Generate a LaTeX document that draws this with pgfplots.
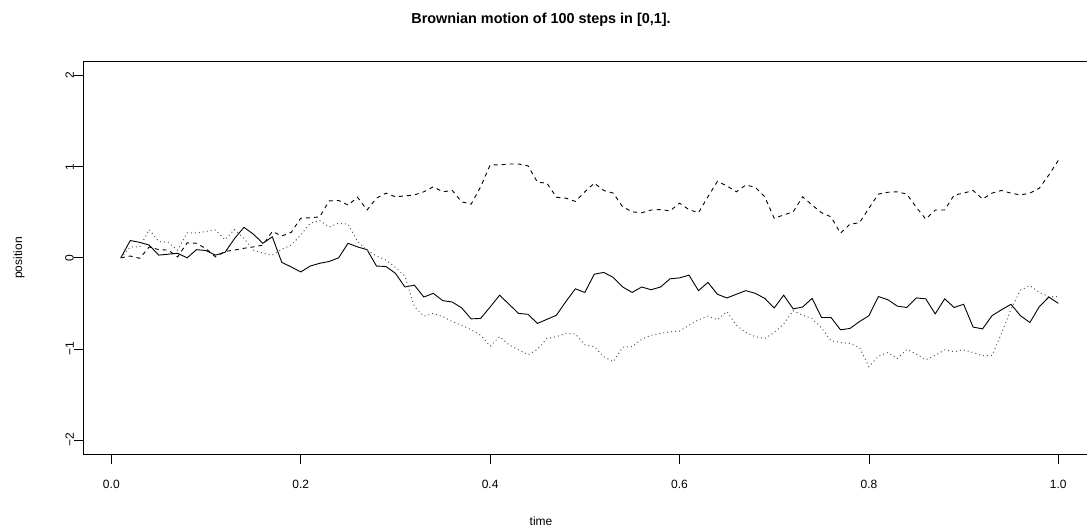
\documentclass[border=0pt]{standalone}
\usepackage{graphicx}
\usepackage{pgfplots}
\pgfplotsset{compat=1.18}
\usepackage{pgfplotstable}
\usepackage{fontspec}
\setmainfont{Liberation Sans}
\newcommand{\yl}[1]{\rotatebox{90}{#1}\hspace{16.7bp}}
\pgfplotstableread{
k s d p
1 0 0 0
2 0.19 0.02 0.12
3 0.17 -0.005 0.12
4 0.14 0.12 0.31
5 0.03 0.09 0.18
6 0.04 0.085 0.17
7 0.05 0.01 0.085
8 0.00 0.165 0.275
9 0.09 0.16 0.275
10 0.08 0.10 0.29
11 0.03 0.01 0.305
12 0.06 0.07 0.20
13 0.21 0.085 0.31
14 0.335 0.105 0.215
15 0.26 0.12 0.085
16 0.16 0.14 0.05
17 0.23 0.29 0.03
18 -0.05 0.24 0.095
19 -0.10 0.28 0.14
20 -0.155 0.435 0.25
21 -0.09 0.44 0.38
22 -0.06 0.45 0.41
23 -0.04 0.625 0.34
24 0.0 0.63 0.38
25 0.16 0.58 0.37
26 0.12 0.665 0.18
27 0.09 0.525 0.085
28 -0.09 0.655 0.02
29 -0.095 0.71 -0.025
30 -0.17 0.67 -0.105
31 -0.32 0.68 -0.20
32 -0.30 0.69 -0.535
33 -0.43 0.725 -0.64
34 -0.39 0.78 -0.61
35 -0.47 0.725 -0.645
36 -0.485 0.74 -0.70
37 -0.55 0.615 -0.74
38 -0.67 0.59 -0.79
39 -0.665 0.78 -0.85
40 -0.54 1.02 -0.97
41 -0.41 1.02 -0.865
42 -0.51 1.03 -0.955
43 -0.61 1.03 -1.01
44 -0.62 1.01 -1.065
45 -0.72 0.83 -1.005
46 -0.675 0.82 -0.885
47 -0.63 0.665 -0.865
48 -0.48 0.655 -0.83
49 -0.34 0.62 -0.835
50 -0.38 0.725 -0.955
51 -0.18 0.82 -0.975
52 -0.16 0.74 -1.085
53 -0.215 0.71 -1.14
54 -0.32 0.56 -0.98
55 -0.38 0.505 -0.975
56 -0.32 0.495 -0.895
57 -0.35 0.525 -0.85
58 -0.32 0.53 -0.83
59 -0.23 0.515 -0.81
60 -0.22 0.60 -0.805
61 -0.19 0.53 -0.74
62 -0.36 0.495 -0.68
63 -0.27 0.67 -0.64
64 -0.40 0.84 -0.68
65 -0.44 0.79 -0.59
66 -0.40 0.725 -0.74
67 -0.36 0.80 -0.82
68 -0.39 0.775 -0.865
69 -0.445 0.67 -0.885
70 -0.55 0.435 -0.82
71 -0.41 0.47 -0.725
72 -0.56 0.505 -0.58
73 -0.54 0.67 -0.63
74 -0.445 0.58 -0.665
75 -0.655 0.495 -0.77
76 -0.655 0.45 -0.91
77 -0.79 0.27 -0.93
78 -0.775 0.37 -0.94
79 -0.70 0.385 -0.985
80 -0.635 0.545 -1.195
81 -0.425 0.70 -1.08
82 -0.46 0.72 -1.04
83 -0.53 0.725 -1.105
84 -0.545 0.70 -1.005
85 -0.44 0.555 -1.055
86 -0.45 0.425 -1.12
87 -0.615 0.525 -1.07
88 -0.45 0.525 -1.01
89 -0.545 0.69 -1.03
90 -0.51 0.71 -1.01
91 -0.76 0.74 -1.04
92 -0.78 0.645 -1.075
93 -0.635 0.71 -1.07
94 -0.57 0.74 -0.83
95 -0.51 0.71 -0.565
96 -0.635 0.69 -0.355
97 -0.71 0.71 -0.305
98 -0.535 0.765 -0.38
99 -0.43 0.91 -0.425
100 -0.50 1.07 -0.425
}\bm
\begin{document}
\begin{tikzpicture}[x=1bp,y=1bp]
\begin{axis}[
  at={(83.3bp,77.4bp)}, anchor=south west,
  scale only axis, width=1012.5bp, height=393.5bp,
  xmin=-0.0296, xmax=1.0396, ymin=-2.16, ymax=2.16,
  xtick={0,0.2,0.4,0.6,0.8,1},
  xticklabels={0.0,0.2,0.4,0.6,0.8,1.0},
  ytick={-2,-1,0,1,2},
  yticklabels={\yl{−2},\yl{−1},\yl{0},\yl{1},\yl{2}},
  tick align=outside, major tick length=9.3bp,
  xtick pos=bottom, ytick pos=left,
  axis line style={line width=0.8bp},
  tick style={line width=0.8bp, black},
  tick label style={font=\fontsize{12bp}{14bp}\selectfont},
  xticklabel style={anchor=north, inner sep=0pt, yshift=-15.8bp},
  yticklabel style={anchor=east, inner sep=0pt},
  clip=false,
]
\addplot[black, line width=0.9bp] table[x expr=\thisrow{k}/100, y=s] {\bm};
\addplot[black, line width=0.9bp, dash pattern=on 4bp off 4bp] table[x expr=\thisrow{k}/100, y=d] {\bm};
\addplot[black!65, line width=1bp, dash pattern=on 1bp off 3bp] table[x expr=\thisrow{k}/100, y=p] {\bm};
\end{axis}
\node[font=\fontsize{14.4bp}{17bp}\selectfont\bfseries] at (541,512) {Brownian motion of 100 steps in [0,1].};
\node[font=\fontsize{12bp}{14bp}\selectfont] at (541,11) {time};
\node[font=\fontsize{12bp}{14bp}\selectfont, rotate=90] at (19,274) {position};
\pgfresetboundingbox
\path[use as bounding box] (0,0) rectangle (1087,532);
\end{tikzpicture}
\end{document}
